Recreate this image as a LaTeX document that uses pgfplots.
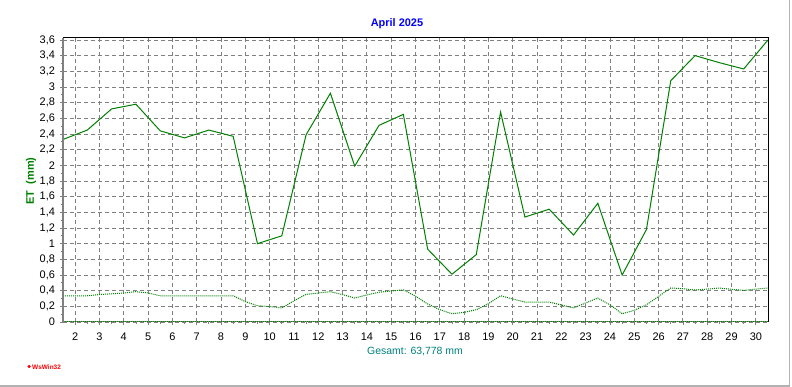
\documentclass[border=0pt]{standalone}
\usepackage{pgfplots}
\pgfplotsset{compat=1.18}
\usepackage{fontspec}
\setmainfont{Liberation Sans}
\definecolor{etgreen}{HTML}{008000}
\definecolor{gridgray}{HTML}{808080}
\definecolor{titleblue}{HTML}{0000FF}
\definecolor{teal2}{HTML}{008080}
\begin{document}
\begin{tikzpicture}
\path[use as bounding box] (0bp,0bp) rectangle (792bp,387bp);
\fill[white] (0bp,0bp) rectangle (792bp,387bp);
\begin{axis}[
  at={(63bp,65bp)}, anchor=south west,
  scale only axis, width=705bp, height=284bp,
  xmin=1.5, xmax=30.5, ymin=0, ymax=3.625,
  xtick={2,...,30},
  ytick={0,0.2,...,3.61},
  minor x tick num=1, minor y tick num=1,
  xtick pos=bottom, ytick pos=left,
  tick align=outside,
  major tick length=3bp, minor tick length=2bp,
  tick style={gridgray, line width=0.8bp},
  grid=major,
  major grid style={gridgray, line width=0.9bp, dash pattern=on 4bp off 3bp},
  axis line style={draw=none},
  /pgf/number format/.cd, use comma, 1000 sep={}, assume math mode=true,
  /pgfplots/.cd,
  ticklabel style={font=\fontsize{11}{12}\selectfont},
  xticklabel style={yshift=-4bp},
  yticklabel style={xshift=-1.5bp},
  clip=false,
]
\draw[gridgray, line width=1bp] (rel axis cs:0,0) -- (rel axis cs:1,0);
\addplot[etgreen, line width=1bp, dash pattern=on 1bp off 1bp] coordinates {(1.5,0) (30.5,0)};
\addplot[etgreen, line width=1bp, dash pattern=on 1bp off 1bp] coordinates {
(1.5,0.335) (2.0,0.335) (2.5,0.335) (3.0,0.35) (3.5,0.36) (4.0,0.37) (4.5,0.387)
(5.0,0.37) (5.5,0.335) (6.0,0.335) (6.5,0.335) (7.0,0.335) (7.5,0.335) (8.0,0.335)
(8.5,0.335) (9.0,0.26) (9.5,0.208) (10.0,0.197) (10.5,0.179) (11.0,0.27) (11.5,0.353)
(12.0,0.37) (12.5,0.387) (13.0,0.35) (13.5,0.306) (14.0,0.345) (14.5,0.38) (15.0,0.396)
(15.5,0.41) (16.0,0.33) (16.5,0.23) (17.0,0.157) (17.5,0.106) (18.0,0.123) (18.5,0.157)
(19.0,0.234) (19.5,0.336) (20.0,0.293) (20.5,0.255) (21.0,0.255) (21.5,0.255) (22.0,0.217)
(22.5,0.179) (23.0,0.243) (23.5,0.306) (24.0,0.22) (24.5,0.106) (25.0,0.149) (25.5,0.22)
(26.0,0.327) (26.5,0.434) (27.0,0.425) (27.5,0.408) (28.0,0.42) (28.5,0.434) (29.0,0.417)
(29.5,0.404) (30.0,0.42) (30.5,0.434)
};
\addplot[etgreen, line width=1bp] coordinates {
(1.5,2.33) (2.5,2.45) (3.5,2.72) (4.5,2.78) (5.5,2.44) (6.5,2.35) (7.5,2.45) (8.5,2.37)
(9.5,1.00) (10.5,1.10) (11.5,2.39) (12.5,2.92) (13.5,1.99) (14.5,2.51) (15.5,2.65)
(16.5,0.93) (17.5,0.61) (18.5,0.86) (19.5,2.68) (20.5,1.34) (21.5,1.44) (22.5,1.11)
(23.5,1.515) (24.5,0.60) (25.5,1.18) (26.5,3.08) (27.5,3.40) (28.5,3.31) (29.5,3.23)
(30.5,3.60)
};
\draw[black, line width=1bp] (rel axis cs:0,1) -- (rel axis cs:1,1) -- (rel axis cs:1,0);
\draw[gridgray, line width=2bp] (rel axis cs:0,0) -- (rel axis cs:0,1);
\end{axis}
\node[font=\fontsize{11}{13}\selectfont\bfseries, text=titleblue] at (397bp,363bp) {April 2025};
\node[font=\fontsize{11}{13}\selectfont\bfseries, text=etgreen, rotate=90] at (31bp,206bp) {ET\ \ (mm)};
\node[font=\fontsize{10.5}{12}\selectfont, text=teal2] at (415bp,35bp) {Gesamt: 63,778 mm};
\node[circle, fill=red, inner sep=0pt, minimum size=3.5bp] at (29bp,20.5bp) {};
\node[font=\fontsize{6.5}{8}\selectfont\bfseries, text=red, anchor=west, inner sep=0pt] at (32bp,20bp) {WsWin32};
\draw[gray!60, line width=1.5bp] (789.5bp,387bp) -- (789.5bp,1bp) -- (0bp,1bp);
\end{tikzpicture}
\end{document}
